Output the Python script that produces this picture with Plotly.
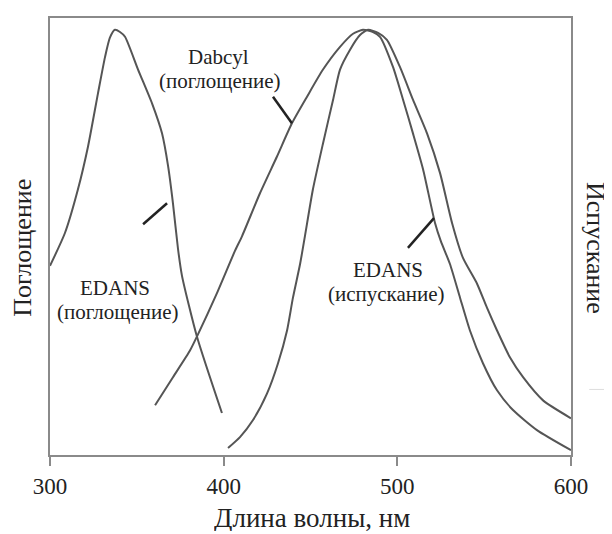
import plotly.graph_objects as go

# EDANS absorption
edans_abs_wl = [300.0, 308.6, 316.1, 321.9, 327.6, 331.7, 334.5, 337.4, 340.3, 343.2, 350.7, 358.8, 364.5, 368.0, 370.8, 373.7, 376.0, 384.6, 399.0]
edans_abs_v = [0.433, 0.508, 0.608, 0.706, 0.827, 0.911, 0.955, 0.973, 0.968, 0.957, 0.882, 0.804, 0.736, 0.661, 0.576, 0.472, 0.410, 0.271, 0.096]

# Dabcyl absorption
dabcyl_wl = [360.5, 370.8, 380.6, 384.6, 396.2, 406.5, 410.6, 420.9, 430.7, 439.3, 448.0, 457.2, 467.0, 474.5, 480.2, 486.0, 490.0, 497.5, 503.3, 509.0, 514.8, 521.7, 525.0, 530.3, 536.1, 541.8, 549.3, 557.4, 566.6, 580.4, 600.0]
dabcyl_v = [0.114, 0.178, 0.239, 0.271, 0.371, 0.467, 0.501, 0.599, 0.683, 0.759, 0.820, 0.882, 0.934, 0.964, 0.973, 0.968, 0.957, 0.888, 0.813, 0.736, 0.654, 0.531, 0.490, 0.437, 0.360, 0.285, 0.210, 0.148, 0.103, 0.057, 0.011]

# EDANS emission
edans_em_wl = [402.5, 409.4, 416.9, 425.0, 431.3, 436.5, 439.9, 444.0, 446.8, 451.4, 457.2, 463.0, 467.0, 472.7, 478.5, 483.1, 488.9, 494.0, 501.5, 509.0, 517.1, 524.6, 531.5, 537.8, 545.9, 551.6, 557.4, 564.9, 572.4, 583.9, 600.0]
edans_em_v = [0.016, 0.041, 0.080, 0.141, 0.210, 0.285, 0.360, 0.437, 0.501, 0.608, 0.713, 0.813, 0.882, 0.927, 0.961, 0.973, 0.966, 0.950, 0.888, 0.813, 0.736, 0.645, 0.531, 0.451, 0.392, 0.337, 0.285, 0.223, 0.178, 0.125, 0.084]

x_ticks = [300, 400, 500, 600]

# labels: (text, x, y)
labels = [
    ("Dabcyl", 397.3, 0.910),
    ("(поглощение)", 397.9, 0.855),
    ("EDANS", 337.4, 0.382),
    ("(поглощение)", 339.2, 0.327),
    ("EDANS", 494.6, 0.424),
    ("(испускание)", 493.5, 0.369),
]
# leader lines: (x0, y0, x1, y1)
leaders = [
    (428.4, 0.820, 439.3, 0.759),
    (353.6, 0.528, 367.4, 0.576),
    (506.1, 0.474, 521.1, 0.542),
]

curve_color = "#555555"
text_color = "#222222"
font_family = "Times New Roman, Liberation Serif, DejaVu Serif, serif"

fig = go.Figure()
for wl, v in [(edans_abs_wl, edans_abs_v), (dabcyl_wl, dabcyl_v), (edans_em_wl, edans_em_v)]:
    fig.add_trace(go.Scatter(x=wl, y=v, mode="lines",
                             line=dict(color=curve_color, width=2, shape="spline", smoothing=0.6),
                             showlegend=False, hoverinfo="skip"))

annotations = []
for t, x, y in labels:
    annotations.append(dict(text=t, x=x, y=y, xref="x", yref="y", showarrow=False,
                            xanchor="center", yanchor="middle",
                            font=dict(family=font_family, size=21, color=text_color)))
annotations.append(dict(text="Поглощение", x=-0.052, y=0.474, xref="paper", yref="paper",
                        showarrow=False, textangle=-90, xanchor="center", yanchor="middle",
                        font=dict(family=font_family, size=26, color=text_color)))
annotations.append(dict(text="Испускание", x=1.046, y=0.474, xref="paper", yref="paper",
                        showarrow=False, textangle=90, xanchor="center", yanchor="middle",
                        font=dict(family=font_family, size=26, color=text_color)))
annotations.append(dict(text="Длина волны, нм", x=0.503, y=-0.143, xref="paper", yref="paper",
                        showarrow=False, xanchor="center", yanchor="middle", height=27,
                        font=dict(family=font_family, size=27, color=text_color)))

shapes = []
for x0, y0, x1, y1 in leaders:
    shapes.append(dict(type="line", x0=x0, y0=y0, x1=x1, y1=y1, xref="x", yref="y",
                       line=dict(color="#222222", width=2.5)))
shapes.append(dict(type="line", x0=1.035, x1=1.079, y0=0.15, y1=0.15, xref="paper", yref="paper",
                   line=dict(color="#dddddd", width=1)))

# page body has an 8px margin, so the figure is shrunk by 8px and margins shifted
fig.update_layout(
    width=604, height=526,
    margin=dict(l=42, r=41, t=8, b=79),
    paper_bgcolor="white", plot_bgcolor="white",
    annotations=annotations, shapes=shapes,
    xaxis=dict(range=[300, 600], tickvals=x_ticks, ticktext=[str(t) for t in x_ticks],
               showgrid=False, zeroline=False, showline=True, linecolor="#8a8a8a", linewidth=2,
               mirror=True, ticks="outside", ticklen=9, tickwidth=2, tickcolor="#8a8a8a",
               tickfont=dict(family=font_family, size=23, color=text_color)),
    yaxis=dict(range=[0, 1], showticklabels=False, showgrid=False, zeroline=False,
               showline=True, linecolor="#8a8a8a", linewidth=2, mirror=True, ticks=""),
)

fig.write_html("out.html")
